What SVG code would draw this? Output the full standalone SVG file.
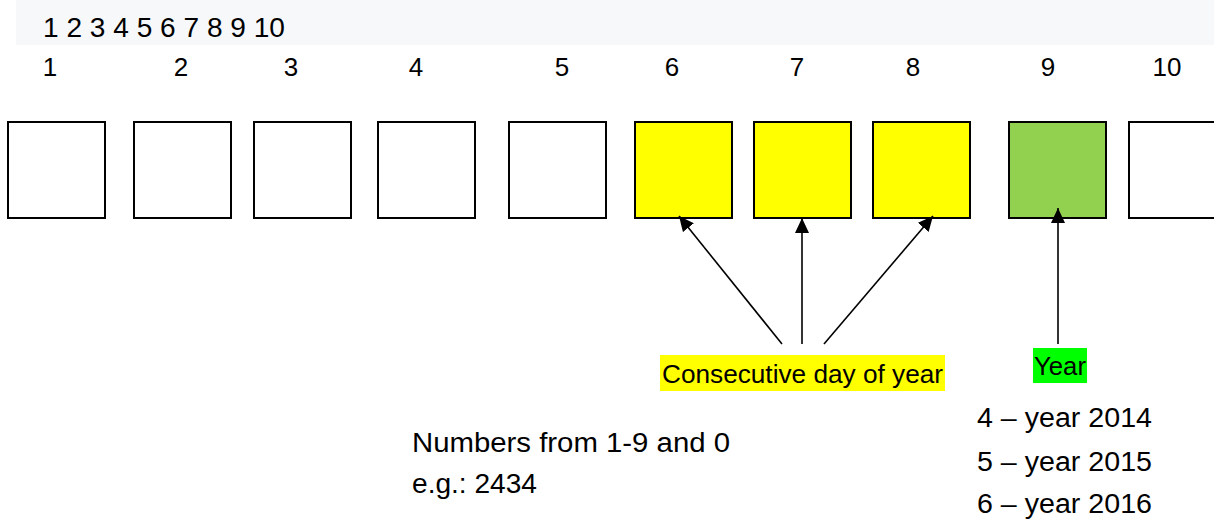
<svg xmlns="http://www.w3.org/2000/svg" width="1214" height="520" viewBox="0 0 1214 520">
<style>
text{font-family:"Liberation Sans",Arial,sans-serif;fill:#000}
.box{stroke:#000;stroke-width:2;fill:#fff}
.y{fill:#ffff00}
.g{fill:#92d050}
.num{font-size:26px;text-anchor:middle}
.conn{stroke:#000;stroke-width:1.6;fill:none;marker-end:url(#ah)}
</style>
<defs>
<marker id="ah" markerUnits="userSpaceOnUse" markerWidth="15" markerHeight="14" refX="15" refY="7" orient="auto">
<path d="M0,0 L15,7 L0,14 z" fill="#000"/>
</marker>
</defs>
<rect width="1214" height="520" fill="#fff"/>
<rect x="16" y="0" width="1198" height="45" fill="#f7f8fa"/>
<text x="43" y="37" font-size="27" textLength="242" lengthAdjust="spacingAndGlyphs" fill="#222">1 2 3 4 5 6 7 8 9 10</text>
<g id="labels">
<text class="num" x="50" y="76">1</text>
<text class="num" x="181" y="76">2</text>
<text class="num" x="291" y="76">3</text>
<text class="num" x="416" y="76">4</text>
<text class="num" x="562" y="76">5</text>
<text class="num" x="672" y="76">6</text>
<text class="num" x="797" y="76">7</text>
<text class="num" x="913" y="76">8</text>
<text class="num" x="1048" y="76">9</text>
<text class="num" x="1167" y="76">10</text>
</g>
<g id="box1"><rect class="box" x="8" y="122" width="97" height="96"/></g>
<g id="box2"><rect class="box" x="134" y="122" width="97" height="96"/></g>
<g id="box3"><rect class="box" x="254" y="122" width="97" height="96"/></g>
<g id="box4"><rect class="box" x="378" y="122" width="97" height="96"/></g>
<g id="box5"><rect class="box" x="509" y="122" width="97" height="96"/></g>
<g id="box6"><rect class="box y" x="635" y="122" width="97" height="96"/></g>
<g id="box7"><rect class="box y" x="754" y="122" width="97" height="96"/></g>
<g id="box8"><rect class="box y" x="873" y="122" width="97" height="96"/></g>
<g id="box9"><rect class="box g" x="1009" y="122" width="97" height="96"/></g>
<g id="box10"><rect class="box" x="1129" y="122" width="97" height="96"/></g>
<g id="connectors">
<line class="conn" x1="782" y1="344" x2="679" y2="216"/>
<line class="conn" x1="802" y1="344" x2="802" y2="218"/>
<line class="conn" x1="824" y1="344" x2="933" y2="216"/>
<line class="conn" x1="1058" y1="344" x2="1058" y2="208"/>
</g>
<g id="day-label">
<rect x="660" y="355" width="285" height="36" fill="#ffff00"/>
<text x="662" y="383" font-size="26" textLength="281" lengthAdjust="spacingAndGlyphs">Consecutive day of year</text>
</g>
<g id="year-label">
<rect x="1033" y="348" width="54" height="35" fill="#00ff00"/>
<text x="1034" y="375" font-size="25" textLength="52" lengthAdjust="spacingAndGlyphs">Year</text>
</g>
<g id="numbers-note">
<text x="412" y="452" font-size="27" textLength="318" lengthAdjust="spacingAndGlyphs">Numbers from 1-9 and 0</text>
<text x="412" y="493" font-size="27" textLength="125" lengthAdjust="spacingAndGlyphs">e.g.: 2434</text>
</g>
<g id="year-note">
<text x="977" y="427" font-size="27" textLength="175" lengthAdjust="spacingAndGlyphs">4 – year 2014</text>
<text x="977" y="471" font-size="27" textLength="175" lengthAdjust="spacingAndGlyphs">5 – year 2015</text>
<text x="977" y="513" font-size="27" textLength="175" lengthAdjust="spacingAndGlyphs">6 – year 2016</text>
</g>
</svg>
